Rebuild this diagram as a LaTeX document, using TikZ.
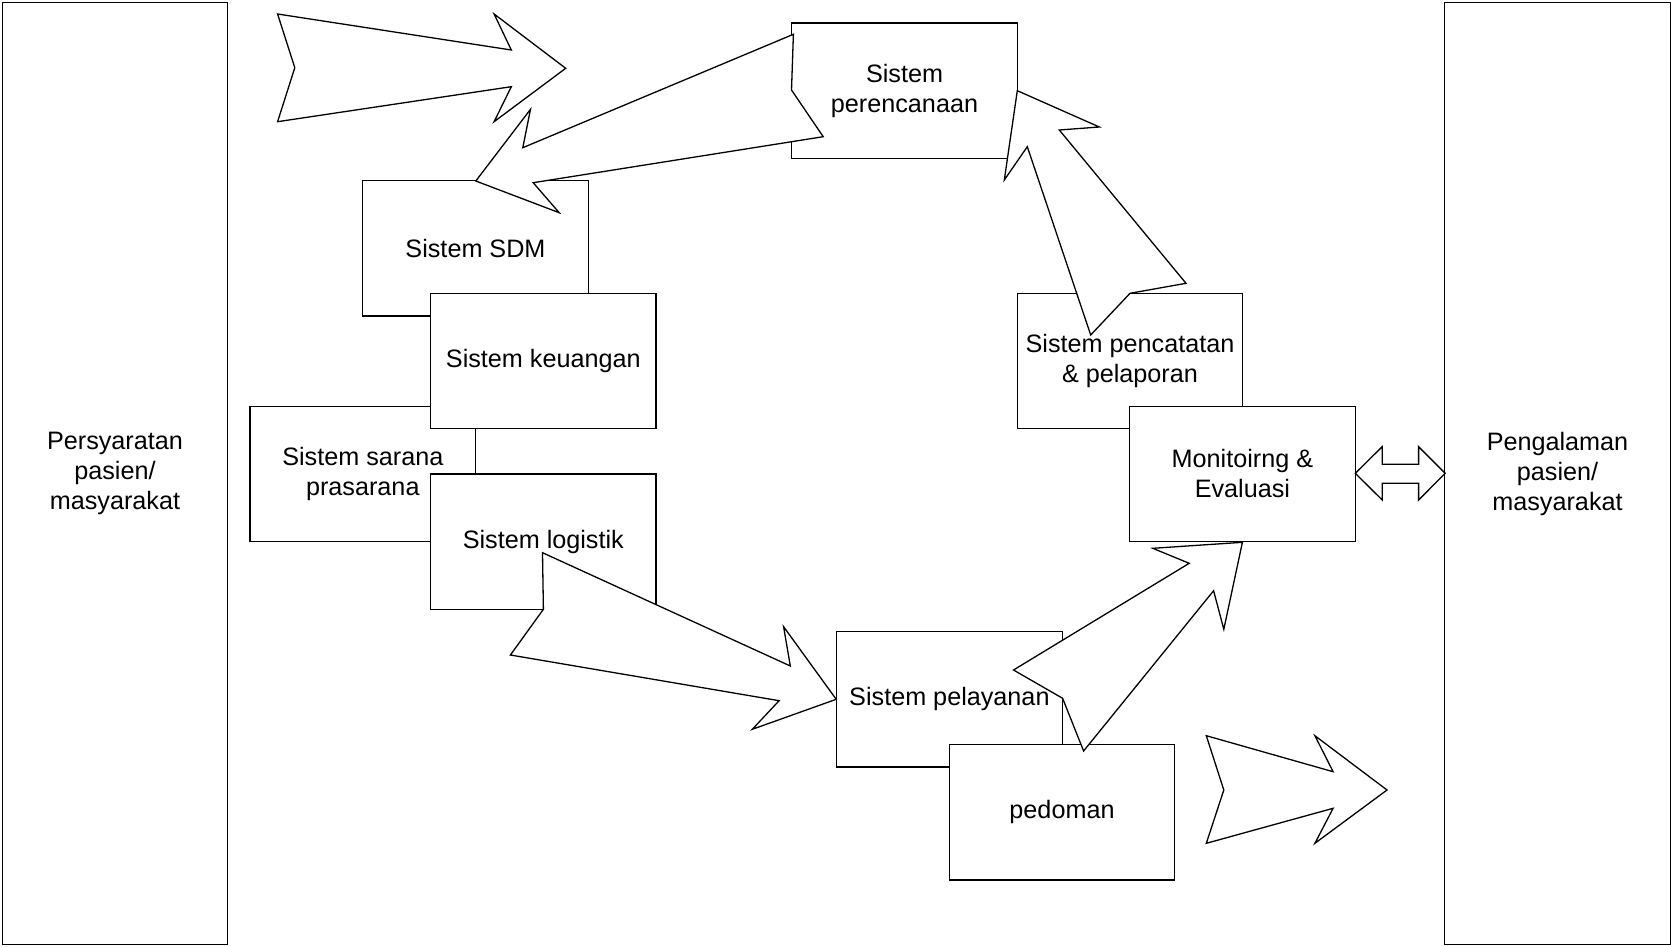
\documentclass[tikz,border=0pt]{standalone}
\usepackage{fontspec}
\setmainfont{Liberation Sans}
\begin{document}
\begin{tikzpicture}[x=0.5pt,y=-0.5pt,line width=0.65pt,
  box/.style={draw,fill=white,rectangle,minimum width=112.8pt,minimum height=67.65pt,inner sep=0pt,align=center,font=\fontsize{12.6}{15}\selectfont},
  tallbox/.style={draw,fill=white,rectangle,minimum width=112.7pt,minimum height=470.8pt,inner sep=0pt,align=center,font=\fontsize{12.6}{15}\selectfont},
  blockarrow/.style={draw,fill=white,line join=miter}]
\useasboundingbox (0,0) rectangle (1671,947);
% side columns
\node[tallbox] (req) at (115,473.5) {Persyaratan\\pasien/\\masyarakat};
\node[tallbox] (exp) at (1557.5,473.5) {Pengalaman\\pasien/\\masyarakat};
% left stack
\node[box] (sdm) at (475.5,248.3) {Sistem SDM};
\node[box] (sarana) at (362.8,473.8) {Sistem sarana\\prasarana};
\node[box] (keu) at (543.3,361) {Sistem keuangan};
\node[box] (log) at (543.3,541.7) {Sistem logistik};
% top
\node[box] (plan) at (904.5,90.7) {Sistem\\perencanaan};
% right stack
\node[box] (rec) at (1130,360.8) {Sistem pencatatan\\\& pelaporan};
\node[box] (mon) at (1242.4,473.8) {Monitoirng \&\\Evaluasi};
% bottom
\node[box] (svc) at (949.4,699.2) {Sistem pelayanan};
\node[box] (ped) at (1062,812.2) {pedoman};
% block arrows
\draw[blockarrow] (277.6,14) -- (511.3,50) -- (494.1,14) -- (565.7,68.3) -- (494.1,121.7) -- (511.3,86.7) -- (277.6,121.7) -- (294.8,67.7) -- cycle;
\draw[blockarrow] (793.4,34.3) -- (522.8,147.7) -- (530.5,109.3) -- (475.8,181) -- (559.2,212.7) -- (533.2,182.7) -- (823.2,136.7) -- (791.5,90) -- cycle;
\draw[blockarrow] (1017.3,90.7) -- (1099.3,127) -- (1059.3,130) -- (1186,283.3) -- (1130,293.3) -- (1090.7,335) -- (1027.3,146.7) -- (1004.3,180) -- cycle;
\draw[blockarrow] (542.5,552.7) -- (790.3,666) -- (783.6,626.7) -- (836.2,699.3) -- (752.3,729.3) -- (779.1,700.7) -- (510.4,655) -- (543.4,609.3) -- cycle;
\draw[blockarrow] (1242.4,542.3) -- (1152.8,548.3) -- (1189.2,563.3) -- (1013.5,670) -- (1062.6,698.3) -- (1083.6,751) -- (1213.6,590.7) -- (1223.8,629.3) -- cycle;
\draw[blockarrow] (1206.3,735.7) -- (1333.1,771.7) -- (1314.9,735.7) -- (1387,790) -- (1314.9,843.3) -- (1333.1,808.3) -- (1206.3,843.3) -- (1223.8,790) -- cycle;
\draw[blockarrow] (1355.3,473.3) -- (1382.2,446.7) -- (1382.2,464.3) -- (1418.6,464.3) -- (1418.6,446.7) -- (1445.2,473.3) -- (1418.6,500) -- (1418.6,483.3) -- (1382.2,483.3) -- (1382.2,500) -- cycle;
\end{tikzpicture}
\end{document}
